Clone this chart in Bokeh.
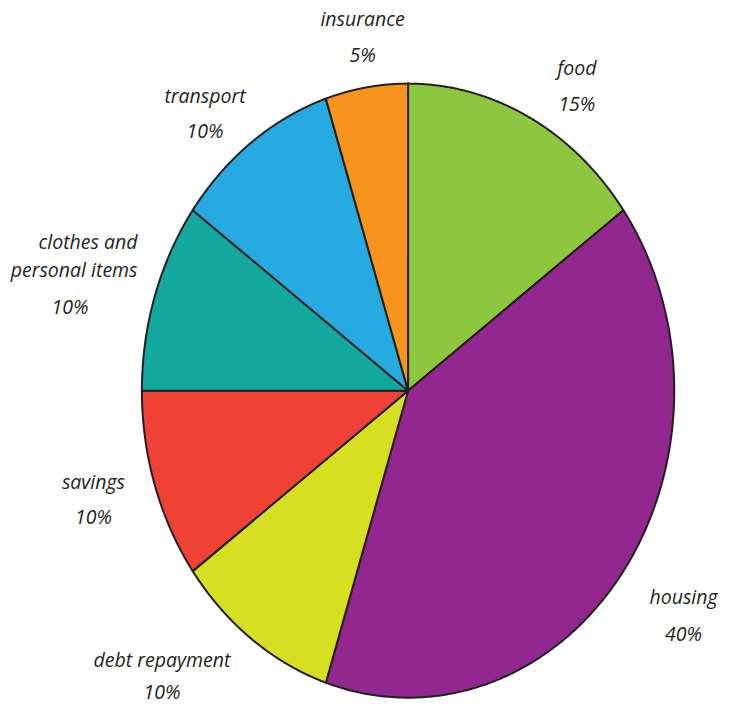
import numpy as np
from bokeh.plotting import figure
from bokeh.models import Range1d, ColumnDataSource
from bokeh.core.properties import value
from bokeh.embed import file_html
from bokeh.resources import INLINE

# ---- data ----
categories = ["food", "housing", "debt repayment", "savings",
              "clothes and\npersonal items", "transport", "insurance"]
shares = [15, 40, 10, 10, 10, 10, 5]
pct_labels = ["15%", "40%", "10%", "10%", "10%", "10%", "5%"]
colors = ["#8DC63F", "#92278F", "#D7DF23", "#EF4136",
          "#13A89E", "#27AAE1", "#F7941D"]

# ---- layout (reference pixel coordinates, y downward) ----
W, H = 730, 706
RW, RH = 746, 722
cx, cy, rx, ry = 416.5, 399.0, 272.0, 314.0
name_pos = [(589, 69), (698, 610), (165, 674), (95, 492),
            (140, 246), (209, 97), (370, 18)]
pct_pos = [(589, 105), (698, 647), (165, 707), (95, 528),
           (71, 313), (209, 133), (370, 55)]

p = figure(width=W, height=H, output_backend="svg", toolbar_location=None,
           x_range=Range1d(0, RW), y_range=Range1d(RH, 0),
           min_border=0, outline_line_color=None)
p.axis.visible = False
p.grid.visible = False
p.background_fill_color = "white"
p.border_fill_color = "white"

total = float(sum(shares))
fr = np.cumsum([0] + shares) / total
xs, ys = [], []
for i in range(len(shares)):
    t = np.linspace(fr[i], fr[i + 1], 200) * 2 * np.pi
    xs.append([cx] + list(cx + rx * np.sin(t)) + [cx])
    ys.append([cy] + list(cy - ry * np.cos(t)) + [cy])

src = ColumnDataSource(dict(xs=xs, ys=ys, color=colors))
p.patches("xs", "ys", source=src, fill_color="color",
          line_color="#231F20", line_width=2, line_join="round")

font = value("Open Sans")
fs = "19.5px"
tc = "#231F20"
for i, name in enumerate(categories):
    lines = name.split("\n")
    nx, ny = name_pos[i]
    if len(lines) == 1:
        p.text([nx], [ny], text=[name], text_font=font, text_font_size=fs,
               text_font_style="italic", text_color=tc,
               text_align="center", text_baseline="middle")
    else:
        for j, ln in enumerate(lines):
            p.text([nx], [ny + 29 * j], text=[ln], text_font=font,
                   text_font_size=fs, text_font_style="italic",
                   text_color=tc, text_align="right",
                   text_baseline="middle")
    px, py = pct_pos[i]
    p.text([px], [py], text=[pct_labels[i]], text_font=font,
           text_font_size=fs, text_font_style="italic",
           text_color=tc, text_align="center", text_baseline="middle")

open("out.html", "w").write(file_html(p, INLINE))
